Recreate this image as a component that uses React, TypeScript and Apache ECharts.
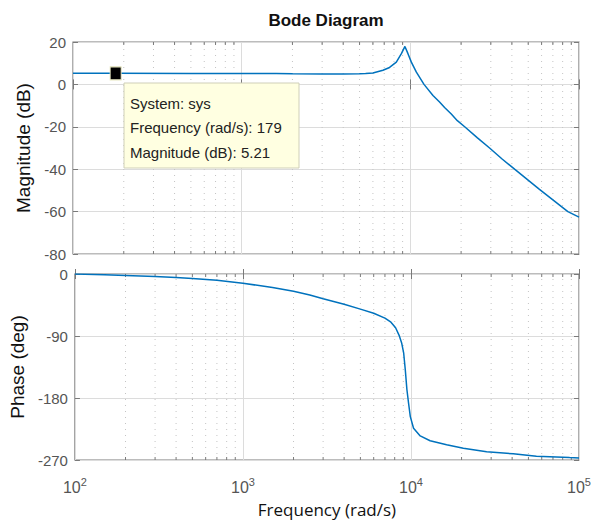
import React, { useEffect, useRef } from "react";
import * as echarts from "echarts";

// ---- data ----
const magFreq = [100, 179, 500, 1000, 1600, 2000, 3000, 4000, 5000, 5430, 6000, 6880, 7530, 8260, 8850, 9290, 9680, 10140, 10860, 12050, 13620, 14900, 15960, 17490, 19000, 21000, 25000, 29500, 35000, 41500, 58300, 85900, 100000];
const magDb = [5.21, 5.21, 5.2, 5.15, 5.1, 5.0, 4.9, 4.9, 5.0, 5.1, 5.4, 6.7, 8.0, 10.5, 14.5, 17.9, 14.5, 10.5, 5.8, 0, -5.2, -8.3, -10.9, -14.0, -17.1, -20, -25.2, -30, -35.2, -40, -49.5, -60, -62.6];

const phaseFreq = [100, 150, 200, 300, 400, 500, 700, 1000, 1500, 2000, 2500, 3000, 4000, 5000, 6000, 7000, 7600, 8100, 8500, 8800, 9050, 9250, 9460, 9680, 9910, 10360, 11350, 13000, 16300, 20500, 28200, 40600, 55800, 87900, 100000];
const phaseDeg = [0, -1, -2, -3.5, -5, -6.5, -9, -13.5, -19.5, -25, -30.5, -36, -44, -51, -57, -64, -70, -78, -89, -100, -115, -139, -168, -188, -207, -224, -235, -242, -248, -253, -258, -261, -264.5, -266.5, -267];

const decadeTicks = [100, 1000, 10000, 100000];
const minorMultipliers = [2, 3, 4, 5, 6, 7, 8, 9];
const magRange = [-80, 20];
const magInterval = 20;
const phaseRange = [-270, 0];
const phaseInterval = 90;

const cursorFreq = [179];
const cursorMag = [5.21];
const tooltipLines = ["System: sys", "Frequency (rad/s): 179", "Magnitude (dB): 5.21"];

const titleText = "Bode Diagram";
const magLabel = "Magnitude (dB)";
const phaseLabel = "Phase (deg)";
const freqLabel = "Frequency (rad/s)";

const minorFreqs = decadeTicks.slice(0, -1).flatMap((d) => minorMultipliers.map((m) => m * d));

const LINE_COLOR = "#0072BD";
const TICK_COLOR = "#555555";
const BORDER = "#7a7a7a";
const GRID_COLOR = "#dcdcdc";
const FONT = "Liberation Sans";

function minorGridSeries(xi: number, yi: number, yMin: number, yMax: number) {
  return {
    type: "custom",
    xAxisIndex: xi,
    yAxisIndex: yi,
    silent: true,
    z: 1,
    data: minorFreqs.map((f) => [f, yMin]),
    encode: { x: 0, y: 1 },
    renderItem: (_params: any, api: any) => {
      const f = api.value(0);
      const p0 = api.coord([f, yMin]);
      const p1 = api.coord([f, yMax]);
      return {
        type: "group",
        children: [
          { type: "line", shape: { x1: p0[0], y1: p0[1], x2: p1[0], y2: p1[1] }, style: { stroke: "#c4c4c4", lineWidth: 1, lineDash: [1, 5] } },
          { type: "line", shape: { x1: p0[0], y1: p0[1], x2: p0[0], y2: p0[1] - 3 }, style: { stroke: BORDER, lineWidth: 1 } },
          { type: "line", shape: { x1: p1[0], y1: p1[1], x2: p1[0], y2: p1[1] + 3 }, style: { stroke: BORDER, lineWidth: 1 } },
        ],
      };
    },
  };
}

function xAxisDef(gridIndex: number, position: string, showLabels: boolean, withName: boolean) {
  return {
    type: "log",
    logBase: 10,
    gridIndex,
    position,
    min: decadeTicks[0],
    max: decadeTicks[decadeTicks.length - 1],
    axisLine: { show: false },
    axisTick: { show: true, inside: true, length: 5, lineStyle: { color: BORDER } },
    splitLine: { show: position === "bottom", lineStyle: { color: GRID_COLOR, width: 1 } },
    axisLabel: {
      show: showLabels,
      margin: 16,
      formatter: (v: number) => `{b|10}{s|${Math.round(Math.log10(v))}}`,
      rich: {
        b: { fontFamily: FONT, fontSize: 16, color: TICK_COLOR },
        s: { fontFamily: FONT, fontSize: 11, color: TICK_COLOR, padding: [0, 0, 12, 0] },
      },
    },
    name: withName ? freqLabel : "",
    nameLocation: "middle",
    nameGap: 41,
    nameTextStyle: { fontFamily: "Open Sans", fontSize: 17, color: "#111111" },
  };
}

function yAxisDef(gridIndex: number, position: string, range: number[], interval: number, name: string, nameGap: number) {
  const left = position === "left";
  return {
    type: "value",
    gridIndex,
    position,
    min: range[0],
    max: range[1],
    interval,
    axisLine: { show: false },
    axisTick: { show: true, inside: true, length: 5, lineStyle: { color: BORDER } },
    splitLine: { show: left, lineStyle: { color: GRID_COLOR, width: 1 } },
    axisLabel: { show: left, fontFamily: FONT, fontSize: 15, color: TICK_COLOR, margin: 7 },
    name: left ? name : "",
    nameLocation: "middle",
    nameRotate: 90,
    nameGap,
    nameTextStyle: { fontFamily: FONT, fontSize: 19, color: "#111111" },
  };
}

export default function App() {
  const ref = useRef<HTMLDivElement>(null);
  useEffect(() => {
    if (!ref.current) return;
    const chart = echarts.init(ref.current, null, { renderer: "svg" });
    const gridCommon = { left: 73, right: 15, show: true, borderColor: BORDER, borderWidth: 1.2, backgroundColor: "#ffffff" };
    chart.setOption({
      animation: false,
      backgroundColor: "#ffffff",
      grid: [
        { ...gridCommon, top: 42, height: 212 },
        { ...gridCommon, top: 274, height: 186 },
      ],
      xAxis: [
        xAxisDef(0, "bottom", false, false),
        xAxisDef(0, "top", false, false),
        xAxisDef(1, "bottom", true, true),
        xAxisDef(1, "top", false, false),
      ],
      yAxis: [
        yAxisDef(0, "left", magRange, magInterval, magLabel, 31),
        yAxisDef(0, "right", magRange, magInterval, "", 0),
        yAxisDef(1, "left", phaseRange, phaseInterval, phaseLabel, 43),
        yAxisDef(1, "right", phaseRange, phaseInterval, "", 0),
      ],
      series: [
        minorGridSeries(0, 0, magRange[0], magRange[1]),
        minorGridSeries(2, 2, phaseRange[0], phaseRange[1]),
        {
          type: "line",
          xAxisIndex: 0,
          yAxisIndex: 0,
          data: magFreq.map((f, i) => [f, magDb[i]]),
          showSymbol: false,
          symbol: "none",
          z: 3,
          lineStyle: { color: LINE_COLOR, width: 1.5 },
        },
        {
          type: "line",
          xAxisIndex: 2,
          yAxisIndex: 2,
          data: phaseFreq.map((f, i) => [f, phaseDeg[i]]),
          showSymbol: false,
          symbol: "none",
          z: 3,
          lineStyle: { color: LINE_COLOR, width: 1.5 },
        },
        {
          type: "scatter",
          xAxisIndex: 0,
          yAxisIndex: 0,
          data: cursorFreq.map((f, i) => [f, cursorMag[i]]),
          symbol: "rect",
          symbolSize: [11, 13],
          z: 10,
          itemStyle: { color: "#000000", borderColor: "#e8e8c0", borderWidth: 1, opacity: 1 },
        },
      ],
      graphic: [
        {
          type: "text",
          x: 326,
          y: 20,
          z: 100,
          zlevel: 1,
          style: { text: titleText, fontFamily: FONT, fontWeight: "bold", fontSize: 17, fill: "#111111", align: "center", verticalAlign: "middle" },
        },
        {
          type: "rect",
          x: 124,
          y: 83,
          z: 100,
          zlevel: 1,
          shape: { x: 0, y: 0, width: 175, height: 85 },
          style: { fill: "#ffffe1", stroke: "#cfcfb8", lineWidth: 1 },
        },
        ...tooltipLines.map((t, i) => ({
          type: "text",
          x: 130,
          y: 103 + i * 24.5,
          z: 101,
          zlevel: 1,
          style: { text: t, fontFamily: FONT, fontSize: 15, fill: "#222222", align: "left", verticalAlign: "middle" },
        })),
      ],
    });
    return () => chart.dispose();
  }, []);
  return <div ref={ref} style={{ position: "absolute", left: 0, top: 0, width: 594, height: 520 }} />;
}
